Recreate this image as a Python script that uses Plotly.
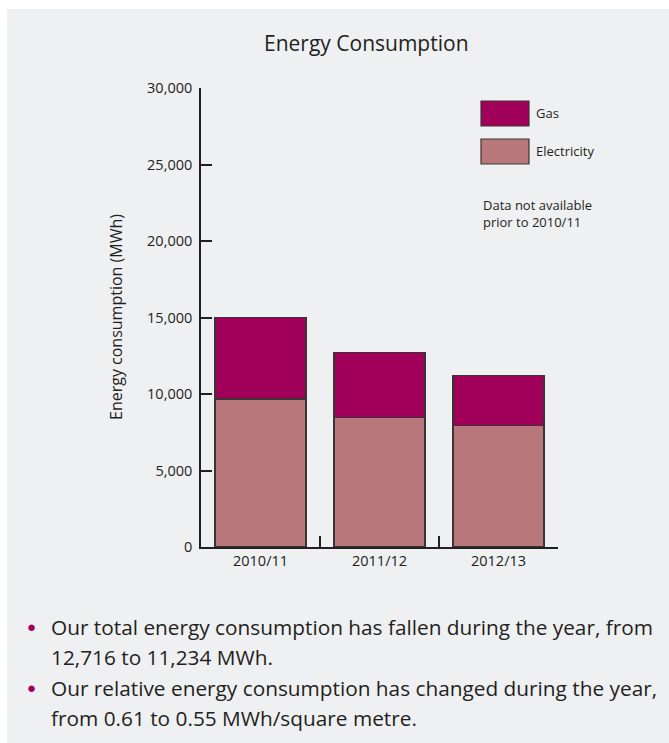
import plotly.graph_objects as go

# Energy consumption by year (MWh)
years = ["2010/11", "2011/12", "2012/13"]
electricity = [9670, 8450, 7930]
gas = [5330, 4266, 3304]

y_ticks = [0, 5000, 10000, 15000, 20000, 25000, 30000]

title_text = "Energy Consumption"
y_title = "Energy consumption (MWh)"
legend_labels = ["Gas", "Electricity"]
note_text = "Data not available<br>prior to 2010/11"
bullet_lines = [
    ["Our total energy consumption has fallen during the year, from",
     "12,716 to 11,234 MWh."],
    ["Our relative energy consumption has changed during the year,",
     "from 0.61 to 0.55 MWh/square metre."],
]

GAS = "#a0005a"
ELEC = "#b8787b"
INK = "#231f20"
EDGE = "#3a3436"
PANEL = "#eff0f2"
FONT = "Open Sans"

W, H = 669, 743
L, R, T, B = 201, 558, 88, 547  # plot area in pixels


def px(x):
    return (x - L) / (R - L)


def py(y):
    return (B - y) / (B - T)


def label(text, x, y, size, xanchor="left", color=INK, **kw):
    return dict(text=text, x=px(x), y=py(y), xref="paper", yref="paper",
                xanchor=xanchor, yanchor="middle", showarrow=False,
                font=dict(family=FONT, size=size, color=color), **kw)


fig = go.Figure()
fig.add_trace(go.Bar(x=years, y=electricity, name="Electricity",
                     marker=dict(color=ELEC, line=dict(color=EDGE, width=1.2))))
fig.add_trace(go.Bar(x=years, y=gas, name="Gas",
                     marker=dict(color=GAS, line=dict(color=EDGE, width=1.2))))

shapes = [
    # grey panel behind everything
    dict(type="rect", xref="paper", yref="paper", layer="below",
         x0=px(7), x1=px(700), y0=py(760), y1=py(9),
         fillcolor=PANEL, line=dict(width=0)),
    # legend swatches
    dict(type="rect", xref="paper", yref="paper",
         x0=px(481), x1=px(529), y0=py(126), y1=py(101),
         fillcolor=GAS, line=dict(color=EDGE, width=1.2)),
    dict(type="rect", xref="paper", yref="paper",
         x0=px(481), x1=px(529), y0=py(164), y1=py(139),
         fillcolor=ELEC, line=dict(color=EDGE, width=1.2)),
]

annotations = [
    label(title_text, 366, 43, 21, xanchor="center"),
    label(y_title, 116, 317, 16, xanchor="center", textangle=-90),
    label(legend_labels[0], 534, 113, 13),
    label(legend_labels[1], 534, 151, 13),
    label(note_text, 481, 213, 13, align="left"),
]

# bullet list beneath the chart
line_y = [[627, 657], [688, 718]]
for lines, ys in zip(bullet_lines, line_y):
    annotations.append(label("\u25CF", 31, ys[0] - 1, 15, xanchor="center", color=GAS))
    for txt, yy in zip(lines, ys):
        annotations.append(label(txt, 49, yy, 20.8))

fig.update_layout(
    width=W, height=H,
    margin=dict(l=L, r=W - R, t=T, b=H - B),
    paper_bgcolor="white", plot_bgcolor=PANEL,
    barmode="stack", bargap=0.235,
    showlegend=False,
    shapes=shapes, annotations=annotations,
    font=dict(family=FONT, color=INK),
)
fig.update_xaxes(
    type="category", showline=True, linecolor=INK, linewidth=1.6,
    ticks="inside", tickson="boundaries", ticklen=11, tickwidth=1.6,
    tickcolor=INK, tickfont=dict(family=FONT, size=14.5, color=INK),
    showgrid=False, zeroline=False,
)
fig.update_yaxes(
    range=[0, 30000], tickvals=y_ticks, tickformat=",",
    showline=True, linecolor=INK, linewidth=1.6,
    ticks="inside", ticklen=11, tickwidth=1.6, tickcolor=INK,
    tickfont=dict(family=FONT, size=14.5, color=INK), ticklabelstandoff=4,
    showgrid=False, zeroline=False,
)

fig.write_html("out.html")
